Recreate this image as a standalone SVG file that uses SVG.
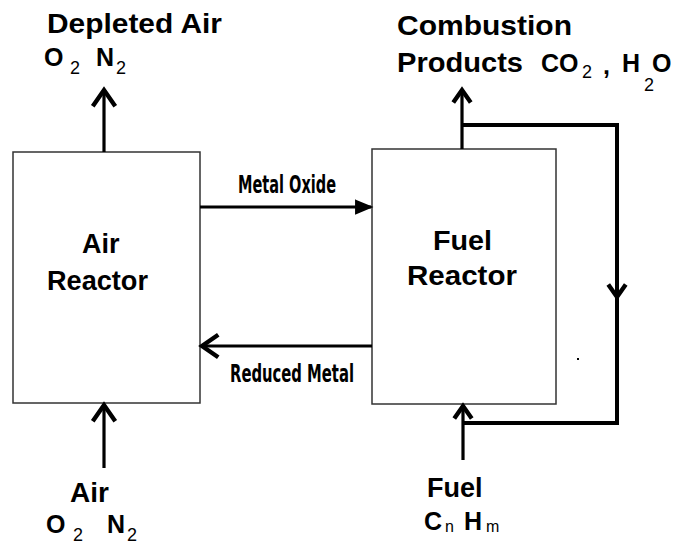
<svg xmlns="http://www.w3.org/2000/svg" width="682" height="544" viewBox="0 0 682 544">
<style>
.box{fill:#fff;stroke:#333;stroke-width:1.5}
.t{font-family:"Liberation Sans",Arial,sans-serif;font-weight:bold;fill:#000}
.sub{font-family:"Liberation Sans",Arial,sans-serif;font-weight:normal;fill:#000}
.n{font-family:"DejaVu Sans Condensed","Liberation Sans",sans-serif;font-weight:bold;fill:#000}
.ln{fill:none;stroke:#000;stroke-width:3.2}
.lp{fill:none;stroke:#000;stroke-width:4}
</style>
<defs>
<marker id="ah" markerUnits="userSpaceOnUse" orient="auto" markerWidth="30" markerHeight="30" refX="0" refY="0" viewBox="-16 -12 20 24" overflow="visible">
<path d="M-13,-9 L0,0 L-13,9" fill="none" stroke="#000" stroke-width="3.5"/>
</marker>
<marker id="ahs" markerUnits="userSpaceOnUse" orient="auto" markerWidth="30" markerHeight="30" refX="0" refY="0" viewBox="-16 -12 20 24" overflow="visible">
<path d="M-10,-7 L0,0 L-10,7" fill="none" stroke="#000" stroke-width="3.5"/>
</marker>
<marker id="ahf" markerUnits="userSpaceOnUse" orient="auto" markerWidth="20" markerHeight="20" refX="0" refY="0" viewBox="-14 -8 16 16" overflow="visible">
<path d="M-12,-5 L0,0 L-12,5 Z" fill="#000" stroke="#000" stroke-width="1.5"/>
</marker>
</defs>

<g id="air-reactor">
<rect class="box" x="13" y="152" width="187" height="251"/>
<text class="t" x="82" y="253" font-size="27">Air</text>
<text class="t" x="47" y="290" font-size="27" textLength="101" lengthAdjust="spacingAndGlyphs">Reactor</text>
</g>

<g id="fuel-reactor">
<rect class="box" x="372" y="149" width="184" height="255"/>
<text class="t" x="433" y="250" font-size="28" textLength="59" lengthAdjust="spacingAndGlyphs">Fuel</text>
<text class="t" x="407" y="285" font-size="28" textLength="110" lengthAdjust="spacingAndGlyphs">Reactor</text>
</g>

<g id="depleted-air">
<text class="t" x="47" y="33" font-size="28" textLength="175" lengthAdjust="spacingAndGlyphs">Depleted Air</text>
<text class="t" x="44" y="66" font-size="25">O</text>
<text class="sub" x="70" y="74" font-size="18">2</text>
<text class="t" x="96" y="66" font-size="25">N</text>
<text class="sub" x="116" y="74" font-size="18">2</text>
</g>

<g id="combustion-products">
<text class="t" x="397" y="35" font-size="28" textLength="175" lengthAdjust="spacingAndGlyphs">Combustion</text>
<text class="t" x="397" y="72" font-size="28" textLength="126" lengthAdjust="spacingAndGlyphs">Products</text>
<text class="t" x="541" y="72" font-size="25">CO</text>
<text class="sub" x="582" y="78" font-size="18">2</text>
<text class="t" x="603" y="74" font-size="25">,</text>
<text class="t" x="622" y="72" font-size="25">H</text>
<text class="sub" x="644" y="91" font-size="18">2</text>
<text class="t" x="652" y="72" font-size="25">O</text>
</g>

<g id="air-in">
<text class="t" x="70" y="502" font-size="28">Air</text>
<text class="t" x="46" y="533" font-size="25">O</text>
<text class="sub" x="73" y="541" font-size="18">2</text>
<text class="t" x="107" y="533" font-size="25">N</text>
<text class="sub" x="127" y="541" font-size="18">2</text>
</g>

<g id="fuel-in">
<text class="t" x="427" y="497" font-size="27">Fuel</text>
<text class="t" x="424" y="530" font-size="25">C</text>
<text class="sub" x="445" y="532" font-size="16">n</text>
<text class="t" x="464" y="530" font-size="25">H</text>
<text class="sub" x="486" y="532" font-size="16">m</text>
</g>

<g id="connectors">
<line class="ln" x1="104" y1="152" x2="104" y2="90" marker-end="url(#ah)"/>
<line class="ln" x1="104" y1="468" x2="104" y2="405" marker-end="url(#ah)"/>
<line class="ln" x1="462" y1="149" x2="462" y2="90" marker-end="url(#ahs)"/>
<line class="ln" x1="463" y1="460" x2="463" y2="406" marker-end="url(#ahs)"/>
<line class="ln" x1="200" y1="207" x2="371" y2="207" marker-end="url(#ahf)"/>
<line class="ln" x1="372" y1="346" x2="202" y2="346" marker-end="url(#ah)"/>
<polyline class="lp" points="462,125 617,125 617,423 462,423"/>
<line class="lp" x1="617" y1="270" x2="617" y2="297" marker-end="url(#ahs)"/>
<text class="n" x="238" y="193" font-size="25" textLength="98" lengthAdjust="spacingAndGlyphs">Metal Oxide</text>
<text class="n" x="230" y="382" font-size="25" textLength="124" lengthAdjust="spacingAndGlyphs">Reduced Metal</text>
</g>
<rect x="577" y="358" width="2" height="2" fill="#000"/>
</svg>
